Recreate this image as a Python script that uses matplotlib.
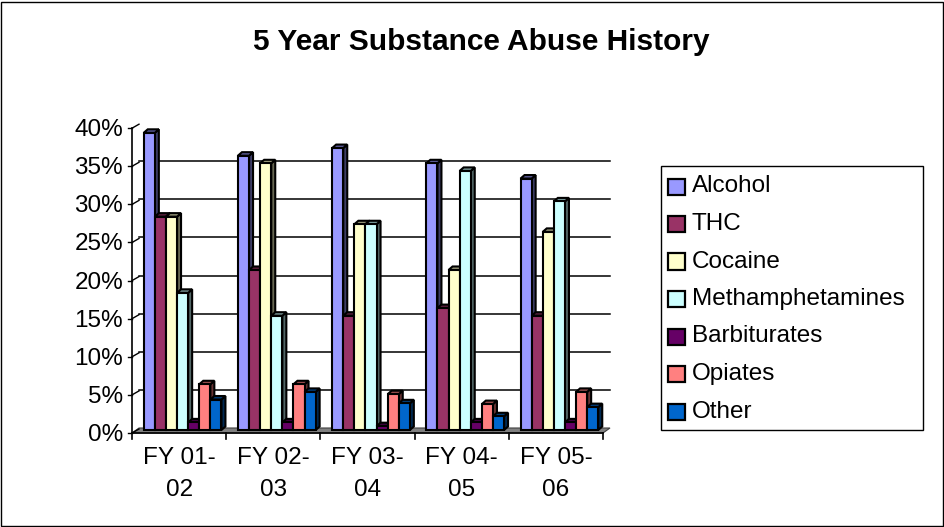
import matplotlib
matplotlib.use("Agg")
import matplotlib.pyplot as plt
import numpy as np
from matplotlib.patches import Polygon, Rectangle

plt.rcParams["font.family"] = ["Liberation Sans", "DejaVu Sans"]

# fiscal years and substance percentages
years = ["FY 01-\n02", "FY 02-\n03", "FY 03-\n04", "FY 04-\n05", "FY 05-\n06"]
substances = ["Alcohol", "THC", "Cocaine", "Methamphetamines",
              "Barbiturates", "Opiates", "Other"]
alcohol = [39, 36, 37, 35, 33]
thc = [28, 21, 15, 16, 15]
cocaine = [28, 35, 27, 21, 26]
meth = [18, 15, 27, 34, 30]
barbiturates = [1, 1, 0.5, 1, 1]
opiates = [6, 6, 4.7, 3.4, 5]
other = [4, 5, 3.5, 1.8, 3]
yticks = [0, 5, 10, 15, 20, 25, 30, 35, 40]

series = [alcohol, thc, cocaine, meth, barbiturates, opiates, other]
colors = ["#9999FF", "#993366", "#FFFFCC", "#CCFFFF", "#660066", "#FF8080", "#0066CC"]

W, H = 945, 527
FS = 17.5
fig = plt.figure(figsize=(W / 100, H / 100), dpi=100)
fig.patch.set_facecolor("white")

# plot area in pixels (front edge)
px_l, px_r, py_b, py_t = 132, 603, 433, 128.2
ax = fig.add_axes([px_l / W, 1 - py_b / H, (px_r - px_l) / W, (py_b - py_t) / H])
ax.set_xlim(-0.5, 4.5)
ax.set_ylim(0, 40)
ax.axis("off")

xpx = (px_r - px_l) / 5.0          # pixels per category
ypx = (py_b - py_t) / 40.0         # pixels per percent

def dxp(p):
    return p / xpx

def dyp(p):
    return p / ypx

# wall depth offset
wdx, wdy = dxp(7), dyp(5)

# floor
floor = Polygon([(-0.5, 0), (4.5, 0), (4.5 + wdx, wdy), (-0.5 + wdx, wdy)],
                closed=True, facecolor="#808080", edgecolor="#404040", lw=0.8,
                clip_on=False, zorder=1)
ax.add_patch(floor)

# back wall gridlines, left-wall slants and value ticks
for t in yticks[1:-1]:
    ax.plot([-0.5 + wdx, 4.5 + wdx], [t + wdy, t + wdy], color="black", lw=1.1,
            clip_on=False, zorder=2)
for t in yticks:
    ax.plot([-0.5, -0.5 + wdx], [t, t + wdy * 0.8], color="black", lw=1,
            clip_on=False, zorder=2)
    ax.plot([-0.5 - dxp(4), -0.5], [t, t], color="black", lw=1,
            clip_on=False, zorder=2)
    ax.text(-0.5 - dxp(9), t - dyp(2), f"{t}%", ha="right", va="center",
            fontsize=FS)

# axis lines and category ticks
ax.plot([-0.5, -0.5], [0, 40], color="black", lw=1.2, clip_on=False, zorder=2)
ax.plot([-0.5, 4.5], [0, 0], color="black", lw=1.2, clip_on=False, zorder=2)
for k in range(6):
    ax.plot([k - 0.5, k - 0.5], [0, -dyp(6)], color="black", lw=1.2,
            clip_on=False, zorder=2)

for i, lab in enumerate(years):
    for n, line in enumerate(lab.split("\n")):
        ax.text(i, -dyp(25 + 32 * n), line, ha="center", va="center",
                fontsize=FS)

# 3D bars
bw = dxp(11.1)
bdx, bdy = dxp(4), dyp(3.5)
base = dyp(3)
x = np.arange(len(years))
z = 3
for i in range(len(years)):
    for k, (vals, c) in enumerate(zip(series, colors)):
        x0 = x[i] + (k - 3) * bw - bw / 2 + dxp(3.5)
        x1 = x0 + bw
        top = base + vals[i]
        rgb = np.array(matplotlib.colors.to_rgb(c))
        side = rgb * 0.4
        topc = rgb * 0.6
        ax.add_patch(Polygon([(x1, base), (x1 + bdx, base + bdy),
                              (x1 + bdx, top + bdy), (x1, top)], closed=True,
                             facecolor=side, edgecolor="black", lw=1.5,
                             clip_on=False, zorder=z))
        ax.add_patch(Polygon([(x0, top), (x1, top), (x1 + bdx, top + bdy),
                              (x0 + bdx, top + bdy)], closed=True,
                             facecolor=topc, edgecolor="black", lw=1.5,
                             clip_on=False, zorder=z))
        ax.bar(x0, vals[i], width=bw, bottom=base, align="edge", color=c,
               edgecolor="black", lw=1.5, clip_on=False, zorder=z + 0.5)
        z += 1

# title
fig.text(481 / W, 1 - 42 / H, "5 Year Substance Abuse History", ha="center",
         va="center", fontsize=21.5, fontweight="bold")

# legend box
lx0, ly0, lx1, ly1 = 661, 166, 923, 430
fig.patches.append(Rectangle((lx0 / W, 1 - ly1 / H), (lx1 - lx0) / W,
                             (ly1 - ly0) / H, transform=fig.transFigure,
                             facecolor="white", edgecolor="black", lw=1))
for j, (name, c) in enumerate(zip(substances, colors)):
    yc = 186.5 + j * 37.5
    fig.patches.append(Rectangle((668 / W, 1 - (yc + 8) / H), 17 / W, 16 / H,
                                 transform=fig.transFigure, facecolor=c,
                                 edgecolor="black", lw=1.6))
    fig.text(692 / W, 1 - yc / H, name, ha="left", va="center", fontsize=FS)

# chart border
fig.patches.append(Rectangle((1 / W, 1 / H), (W - 3) / W, (H - 3) / H,
                             transform=fig.transFigure, fill=False,
                             edgecolor="black", lw=1))

fig.savefig("out.png", dpi=100)
